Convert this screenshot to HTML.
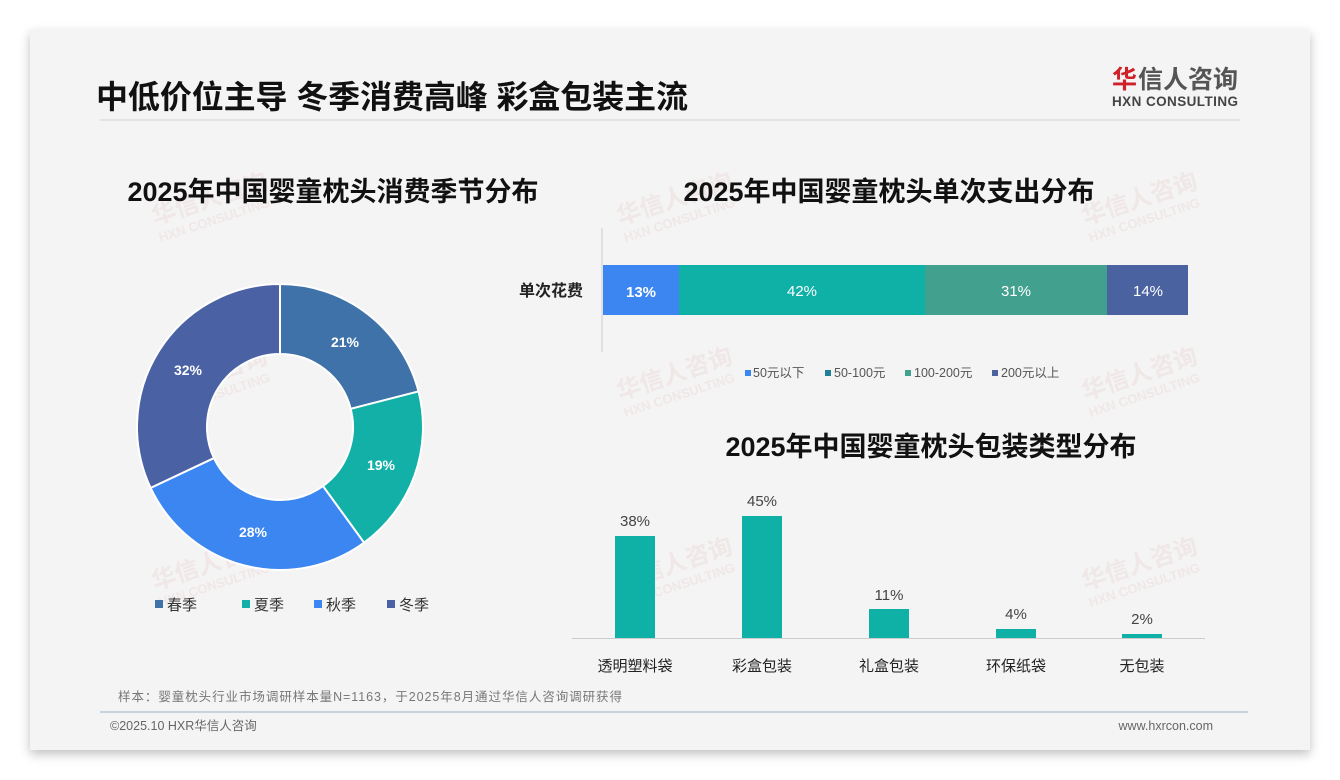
<!DOCTYPE html>
<html><head><meta charset="utf-8"><style>
body{margin:0;width:1340px;height:780px;background:#fff;position:relative;overflow:hidden;font-family:"Liberation Sans","Noto Sans CJK SC",sans-serif}
.card{position:absolute;left:30px;top:30px;width:1280px;height:720px;background:#f4f4f4;box-shadow:0 4px 10px rgba(0,0,0,.25)}
</style></head><body>
<div class="card"></div>
<svg width="1340" height="780" style="position:absolute;left:0;top:0" font-family="Liberation Sans, Noto Sans CJK SC, sans-serif">
<text x="96" y="108" font-size="32" font-weight="bold" fill="#111" textLength="592">中低价位主导 冬季消费高峰 彩盒包装主流</text>
<text x="1112" y="88" font-size="25" font-weight="bold" fill="#d0202a">华</text>
<text x="1138" y="88" font-size="25" font-weight="bold" fill="#555">信人咨询</text>
<text x="1112" y="106" font-size="13.5" font-weight="bold" fill="#444" textLength="126">HXN CONSULTING</text>
<line x1="100" y1="120" x2="1240" y2="120" stroke="#ddd" stroke-width="1.5"/>
<g id="wm" font-weight="bold" fill="#e8c8c8" opacity="0.3"></g>
<text x="333" y="201" font-size="27" font-weight="bold" fill="#111" text-anchor="middle">2025年中国婴童枕头消费季节分布</text>
<text x="889" y="201" font-size="27" font-weight="bold" fill="#111" text-anchor="middle">2025年中国婴童枕头单次支出分布</text>
<text x="931" y="456" font-size="27" font-weight="bold" fill="#111" text-anchor="middle">2025年中国婴童枕头包装类型分布</text>
<g id="donut"></g>
<g font-size="14" font-weight="bold" fill="#fff" text-anchor="middle">
<text x="345" y="347">21%</text><text x="381" y="470">19%</text><text x="253" y="537">28%</text><text x="188" y="375">32%</text></g>
<g font-size="15" fill="#333">
<rect x="155" y="600" width="8" height="8" fill="#3f72a8"/><text x="167" y="610">春季</text>
<rect x="242" y="600" width="8" height="8" fill="#12b0a7"/><text x="254" y="610">夏季</text>
<rect x="314" y="600" width="8" height="8" fill="#3b86f0"/><text x="326" y="610">秋季</text>
<rect x="387" y="600" width="8" height="8" fill="#4a62a3"/><text x="399" y="610">冬季</text></g>
<line x1="602" y1="228" x2="602" y2="352" stroke="#ccc"/>
<text x="583" y="296" font-size="16" font-weight="bold" fill="#222" text-anchor="end">单次花费</text>
<rect x="603" y="265" width="76" height="50" fill="#3b86f0"/>
<rect x="679" y="265" width="246" height="50" fill="#0fb0a6"/>
<rect x="925" y="265" width="182" height="50" fill="#41a08e"/>
<rect x="1107" y="265" width="81" height="50" fill="#4a63a0"/>
<g font-size="15" fill="#fff" text-anchor="middle"><text x="641" y="297" font-weight="bold">13%</text><text x="802" y="296">42%</text><text x="1016" y="296">31%</text><text x="1148" y="296">14%</text></g>
<g font-size="12.5" fill="#555">
<rect x="745" y="370" width="6" height="6" fill="#3b86f0"/><text x="753" y="377">50元以下</text>
<rect x="825" y="370" width="6" height="6" fill="#1e7f96"/><text x="834" y="377">50-100元</text>
<rect x="905" y="370" width="6" height="6" fill="#41a08e"/><text x="914" y="377">100-200元</text>
<rect x="992" y="370" width="6" height="6" fill="#4a63a0"/><text x="1001" y="377">200元以上</text></g>
<line x1="572" y1="638.5" x2="1205" y2="638.5" stroke="#ccc"/>
<g fill="#0fb0a6"><rect x="615" y="536" width="40" height="102"/><rect x="742" y="516" width="40" height="122"/><rect x="869" y="609" width="40" height="29"/><rect x="996" y="629" width="40" height="9"/><rect x="1122" y="634" width="40" height="4"/></g>
<g font-size="15" fill="#444" text-anchor="middle"><text x="635" y="526">38%</text><text x="762" y="506">45%</text><text x="889" y="600">11%</text><text x="1016" y="619">4%</text><text x="1142" y="624">2%</text>
<text x="635" y="671" fill="#222">透明塑料袋</text><text x="762" y="671" fill="#222">彩盒包装</text><text x="889" y="671" fill="#222">礼盒包装</text><text x="1016" y="671" fill="#222">环保纸袋</text><text x="1142" y="671" fill="#222">无包装</text></g>
<text x="118" y="701" font-size="12.5" fill="#777" textLength="504">样本：婴童枕头行业市场调研样本量N=1163，于2025年8月通过华信人咨询调研获得</text>
<line x1="100" y1="712" x2="1248" y2="712" stroke="#b8c8d8" stroke-width="1.5"/>
<text x="110" y="730" font-size="12.5" fill="#666">©2025.10 HXR华信人咨询</text>
<text x="1213" y="730" font-size="12.5" fill="#666" text-anchor="end">www.hxrcon.com</text>
</svg>
<script>
var ns="http://www.w3.org/2000/svg",g=document.getElementById('donut');
var cx=280,cy=427,R=143,r=73,a=0,d=[[21,'#3f72a8'],[19,'#12b0a7'],[28,'#3b86f0'],[32,'#4a62a3']];
function p(ang,rad){var t=(ang/100)*2*Math.PI-Math.PI/2;return [cx+rad*Math.cos(t),cy+rad*Math.sin(t)];}
d.forEach(function(s){var b=a+s[0],l=s[0]>50?1:0,A=p(a,R),B=p(b,R),C=p(b,r),D=p(a,r);
var e=document.createElementNS(ns,'path');e.setAttribute('d','M'+A+'A'+R+','+R+' 0 '+l+' 1 '+B+'L'+C+'A'+r+','+r+' 0 '+l+' 0 '+D+'Z');
e.setAttribute('fill',s[1]);e.setAttribute('stroke','#fff');e.setAttribute('stroke-width','2');g.appendChild(e);a=b;});
var w=document.getElementById('wm');[[155,225],[620,225],[1085,225],[155,400],[620,400],[1085,400],[155,590],[620,590],[1085,590]].forEach(function(q){
var t=document.createElementNS(ns,'g');t.setAttribute('transform','translate('+q[0]+','+q[1]+') rotate(-18)');
t.innerHTML='<text font-size="24">华信人咨询</text><text y="18" font-size="13">HXN CONSULTING</text>';w.appendChild(t);});
</script>
</body></html>
